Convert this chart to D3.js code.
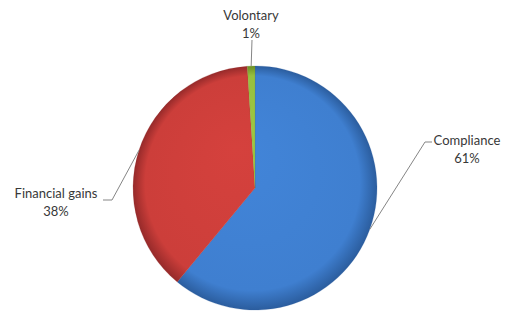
<!DOCTYPE html>
<html>
<head>
<meta charset="utf-8">
<script src="https://cdn.jsdelivr.net/npm/d3@7"></script>
<style>
  body { margin: 0; background: #fff; }
  text { font-family: Lato, "Open Sans", sans-serif; font-size: 13px; fill: #383838; }
</style>
</head>
<body>
<div id="chart"></div>
<script>
var categories = ["Compliance", "Financial gains", "Volontary"],
    values = [61, 38, 1],
    valueLabels = ["61%", "38%", "1%"];

var width = 506,
    height = 314,
    cx = 255,
    cy = 188,
    radius = 122;

var colors = ["#3f7fd0", "#cc3e3a", "#97c03f"],
    rims = ["#2b5d9e", "#962a2a", "#6b8f25"];

// where each label's leader line bends, and where the text sits
var labelLayout = [
  { elbow: [425, 142], end: [432, 142], tx: 467, ty: 140, anchor: "middle" },
  { elbow: [112, 200], end: [103, 200], tx: 56, ty: 193, anchor: "middle" },
  { elbow: [252, 40], end: [252, 40], tx: 251, ty: 15, anchor: "middle" }
];

var svg = d3.select("#chart").append("svg")
  .attr("width", width)
  .attr("height", height);

var defs = svg.append("defs");
colors.forEach(function(c, i) {
  // gradient is in the pie group's coordinates (origin = pie centre)
  var g = defs.append("radialGradient")
    .attr("id", "grad" + i)
    .attr("gradientUnits", "userSpaceOnUse")
    .attr("cx", 0).attr("cy", 0).attr("r", radius)
    .attr("fx", -20).attr("fy", -40);
  g.append("stop").attr("offset", "0%").attr("stop-color", d3.color(c).brighter(0.12));
  g.append("stop").attr("offset", "88%").attr("stop-color", c);
  g.append("stop").attr("offset", "100%").attr("stop-color", rims[i]);
});

var pie = d3.pie().sort(null).value(function(d) { return d; });
var arcs = pie(values);

var arc = d3.arc().innerRadius(0).outerRadius(radius);

var chart = svg.append("g")
  .attr("transform", "translate(" + cx + "," + cy + ")");

chart.selectAll("path.slice")
  .data(arcs)
  .enter().append("path")
  .attr("class", "slice")
  .attr("d", arc)
  .attr("fill", function(d, i) { return "url(#grad" + i + ")"; })
  .attr("stroke", function(d, i) { return rims[i]; })
  .attr("stroke-opacity", 0.35)
  .attr("stroke-width", 0.6);

// leader lines and labels
arcs.forEach(function(d, i) {
  var mid = (d.startAngle + d.endAngle) / 2,
      px = cx + radius * Math.sin(mid),
      py = cy - radius * Math.cos(mid),
      L = labelLayout[i];
  svg.append("polyline")
    .attr("points", [[px, py], L.elbow, L.end].map(function(p) { return p.join(","); }).join(" "))
    .attr("fill", "none")
    .attr("stroke", "#858585")
    .attr("stroke-width", 1);

  svg.append("text")
    .attr("x", L.tx)
    .attr("y", L.ty)
    .attr("text-anchor", L.anchor)
    .attr("dy", "0.35em")
    .text(categories[i]);
  svg.append("text")
    .attr("x", L.tx)
    .attr("y", L.ty + 18)
    .attr("text-anchor", L.anchor)
    .attr("dy", "0.35em")
    .text(valueLabels[i]);
});
</script>
</body>
</html>
